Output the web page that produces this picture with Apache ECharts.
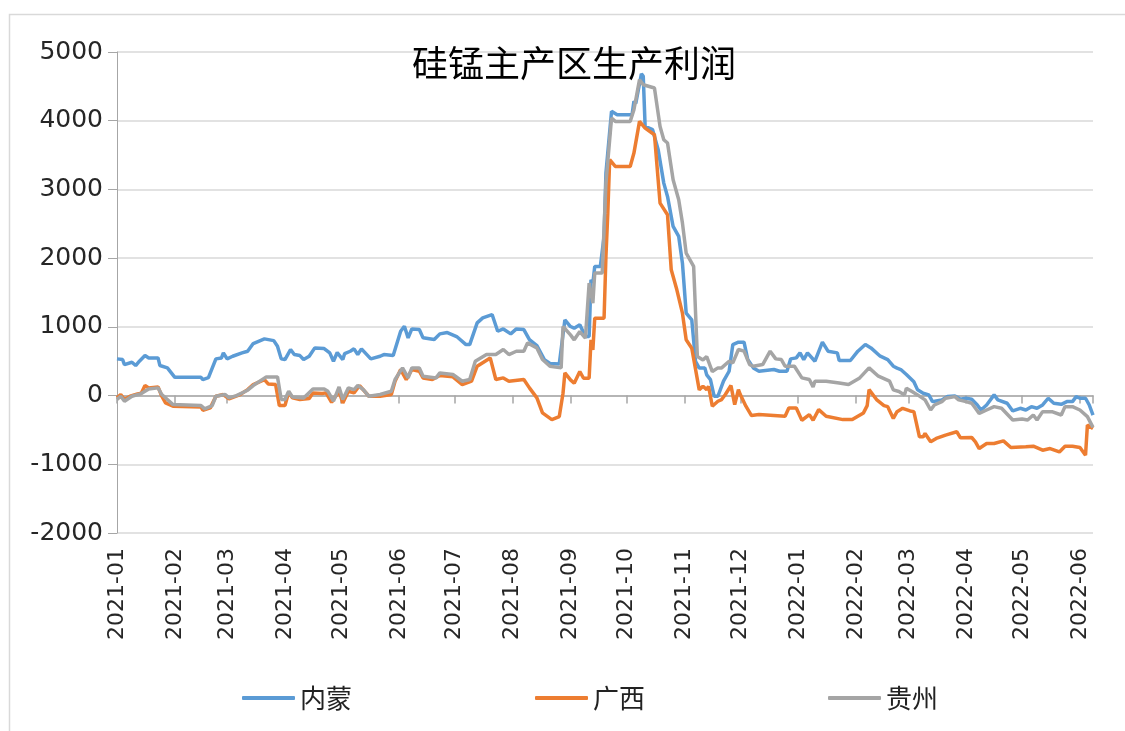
<!DOCTYPE html>
<html>
<head>
<meta charset="utf-8">
<title>硅锰主产区生产利润</title>
<script src="https://cdn.jsdelivr.net/npm/echarts@6/dist/echarts.min.js"></script>
<style>
  html, body { margin: 0; padding: 0; background: #fff; }
  #chart { width: 1125px; height: 731px; }
</style>
</head>
<body>
<div id="chart"></div>
<script>
// 内蒙
const nmDates = ['2021-01-01','2021-01-04','2021-01-05','2021-01-09','2021-01-11','2021-01-13','2021-01-16','2021-01-18','2021-01-23','2021-01-24','2021-01-28','2021-02-01','2021-02-15','2021-02-16','2021-02-19','2021-02-23','2021-02-26','2021-02-27','2021-03-01','2021-03-04','2021-03-09','2021-03-12','2021-03-15','2021-03-21','2021-03-26','2021-03-28','2021-03-30','2021-04-01','2021-04-04','2021-04-06','2021-04-09','2021-04-11','2021-04-14','2021-04-17','2021-04-22','2021-04-25','2021-04-27','2021-04-29','2021-05-02','2021-05-03','2021-05-06','2021-05-08','2021-05-10','2021-05-12','2021-05-17','2021-05-22','2021-05-24','2021-05-29','2021-06-02','2021-06-04','2021-06-06','2021-06-08','2021-06-12','2021-06-14','2021-06-20','2021-06-23','2021-06-27','2021-07-02','2021-07-07','2021-07-09','2021-07-13','2021-07-16','2021-07-21','2021-07-24','2021-07-27','2021-07-31','2021-08-03','2021-08-07','2021-08-10','2021-08-14','2021-08-18','2021-08-21','2021-08-26','2021-08-29','2021-09-01','2021-09-03','2021-09-06','2021-09-09','2021-09-11','2021-09-12','2021-09-13','2021-09-14','2021-09-17','2021-09-19','2021-09-20','2021-09-23','2021-09-26','2021-10-04','2021-10-05','2021-10-06','2021-10-09','2021-10-10','2021-10-11','2021-10-15','2021-10-18','2021-10-21','2021-10-23','2021-10-26','2021-10-29','2021-10-31','2021-11-02','2021-11-05','2021-11-07','2021-11-09','2021-11-12','2021-11-13','2021-11-15','2021-11-17','2021-11-19','2021-11-22','2021-11-25','2021-11-27','2021-11-30','2021-12-03','2021-12-05','2021-12-08','2021-12-11','2021-12-19','2021-12-22','2021-12-26','2021-12-28','2021-12-31','2022-01-02','2022-01-04','2022-01-06','2022-01-10','2022-01-14','2022-01-17','2022-01-22','2022-01-23','2022-01-29','2022-02-02','2022-02-06','2022-02-09','2022-02-14','2022-02-18','2022-02-21','2022-02-23','2022-02-25','2022-02-28','2022-03-04','2022-03-06','2022-03-09','2022-03-12','2022-03-14','2022-03-16','2022-03-19','2022-03-22','2022-03-26','2022-03-29','2022-04-01','2022-04-04','2022-04-07','2022-04-09','2022-04-12','2022-04-16','2022-04-18','2022-04-23','2022-04-26','2022-04-30','2022-05-03','2022-05-06','2022-05-09','2022-05-12','2022-05-15','2022-05-18','2022-05-22','2022-05-25','2022-05-28','2022-05-30','2022-06-01','2022-06-04','2022-06-06','2022-06-08'];
const nmValues = [534,524,451,485,437,500,582,548,548,437,403,266,266,233,260,534,548,621,534,572,621,645,757,825,800,718,534,524,670,597,582,524,572,694,685,621,500,626,524,611,645,680,597,680,534,572,597,582,936,1009,840,970,961,840,815,898,917,859,742,742,1058,1131,1179,936,970,898,970,961,815,728,524,466,461,1102,1005,981,1029,859,859,1684,1636,1879,1879,2316,3238,4136,4087,4087,4282,4250,4684,4646,3917,3869,3578,3092,2898,2461,2316,1927,1199,1102,500,400,403,301,233,-10,-10,209,354,743,777,777,524,403,354,379,354,354,534,549,621,524,621,500,777,646,621,510,510,646,743,694,573,524,427,400,379,306,200,83,34,10,-88,-78,-63,-15,-5,-54,-39,-54,-137,-210,-137,10,-63,-112,-224,-185,-210,-161,-185,-137,-39,-112,-127,-88,-88,-15,-39,-39,-137,-283];

// 广西
const gxDates = ['2021-01-01','2021-01-03','2021-01-05','2021-01-08','2021-01-12','2021-01-14','2021-01-16','2021-01-18','2021-01-23','2021-01-25','2021-01-27','2021-01-31','2021-02-15','2021-02-16','2021-02-20','2021-02-23','2021-02-27','2021-03-02','2021-03-08','2021-03-12','2021-03-15','2021-03-21','2021-03-23','2021-03-27','2021-03-29','2021-04-01','2021-04-03','2021-04-05','2021-04-09','2021-04-14','2021-04-16','2021-04-21','2021-04-23','2021-04-26','2021-04-30','2021-05-02','2021-05-05','2021-05-08','2021-05-11','2021-05-16','2021-05-22','2021-05-28','2021-05-30','2021-06-02','2021-06-05','2021-06-08','2021-06-12','2021-06-14','2021-06-19','2021-06-23','2021-06-30','2021-07-05','2021-07-10','2021-07-13','2021-07-20','2021-07-23','2021-07-27','2021-07-30','2021-08-07','2021-08-10','2021-08-14','2021-08-17','2021-08-22','2021-08-26','2021-08-28','2021-08-29','2021-09-01','2021-09-03','2021-09-06','2021-09-08','2021-09-11','2021-09-12','2021-09-13','2021-09-14','2021-09-19','2021-09-20','2021-09-21','2021-09-22','2021-09-25','2021-10-03','2021-10-05','2021-10-08','2021-10-11','2021-10-16','2021-10-19','2021-10-23','2021-10-25','2021-10-28','2021-10-31','2021-11-02','2021-11-05','2021-11-09','2021-11-11','2021-11-13','2021-11-14','2021-11-16','2021-11-19','2021-11-21','2021-11-23','2021-11-26','2021-11-28','2021-11-30','2021-12-01','2021-12-04','2021-12-07','2021-12-11','2021-12-25','2021-12-27','2021-12-31','2022-01-03','2022-01-07','2022-01-09','2022-01-12','2022-01-16','2022-01-25','2022-01-30','2022-02-05','2022-02-07','2022-02-08','2022-02-12','2022-02-16','2022-02-18','2022-02-21','2022-02-23','2022-02-26','2022-03-02','2022-03-04','2022-03-07','2022-03-09','2022-03-10','2022-03-13','2022-03-16','2022-03-21','2022-03-27','2022-03-29','2022-04-04','2022-04-06','2022-04-08','2022-04-12','2022-04-16','2022-04-21','2022-04-25','2022-05-03','2022-05-07','2022-05-12','2022-05-16','2022-05-21','2022-05-24','2022-05-28','2022-06-01','2022-06-04','2022-06-05','2022-06-08'];
const gxValues = [-34,15,-58,-10,24,35,146,112,126,-10,-107,-155,-165,-213,-179,-10,15,-48,15,87,160,233,170,160,-146,-146,48,-34,-58,-44,39,29,39,-97,63,-107,63,39,146,-10,-10,15,209,379,233,379,354,257,233,291,272,160,209,427,548,233,257,209,233,112,-34,-252,-349,-306,34,330,228,180,350,252,252,811,665,1126,1126,2024,2655,3432,3335,3335,3529,3990,3893,3796,2801,2631,1830,1539,1199,811,689,83,136,87,136,-155,-83,-58,15,146,-131,87,15,-155,-291,-277,-301,-180,-180,-359,-277,-359,-204,-301,-350,-350,-252,-146,87,-58,-146,-161,-332,-234,-185,-224,-234,-600,-600,-551,-673,-624,-576,-527,-615,-610,-673,-771,-698,-698,-659,-756,-746,-737,-795,-771,-820,-737,-737,-756,-868,-429,-478];

// 贵州
const gzDates = ['2021-01-01','2021-01-03','2021-01-05','2021-01-09','2021-01-14','2021-01-18','2021-01-23','2021-01-25','2021-01-28','2021-01-31','2021-02-15','2021-02-17','2021-02-21','2021-02-23','2021-02-28','2021-03-02','2021-03-06','2021-03-12','2021-03-15','2021-03-22','2021-03-28','2021-03-30','2021-04-01','2021-04-03','2021-04-05','2021-04-11','2021-04-16','2021-04-22','2021-04-24','2021-04-27','2021-04-30','2021-05-02','2021-05-05','2021-05-08','2021-05-10','2021-05-13','2021-05-16','2021-05-22','2021-05-28','2021-05-30','2021-06-03','2021-06-06','2021-06-08','2021-06-12','2021-06-14','2021-06-21','2021-06-23','2021-06-30','2021-07-05','2021-07-09','2021-07-12','2021-07-18','2021-07-23','2021-07-27','2021-07-30','2021-08-03','2021-08-07','2021-08-09','2021-08-14','2021-08-17','2021-08-21','2021-08-27','2021-08-28','2021-09-01','2021-09-03','2021-09-06','2021-09-09','2021-09-11','2021-09-13','2021-09-14','2021-09-18','2021-09-20','2021-09-23','2021-09-25','2021-10-03','2021-10-05','2021-10-08','2021-10-10','2021-10-16','2021-10-19','2021-10-21','2021-10-23','2021-10-26','2021-10-29','2021-10-31','2021-11-02','2021-11-06','2021-11-08','2021-11-11','2021-11-13','2021-11-16','2021-11-19','2021-11-21','2021-11-25','2021-11-27','2021-11-30','2021-12-03','2021-12-06','2021-12-08','2021-12-13','2021-12-17','2021-12-20','2021-12-23','2021-12-25','2021-12-30','2022-01-03','2022-01-07','2022-01-09','2022-01-10','2022-01-16','2022-01-23','2022-01-28','2022-02-03','2022-02-08','2022-02-13','2022-02-19','2022-02-21','2022-02-24','2022-02-27','2022-02-28','2022-03-03','2022-03-06','2022-03-10','2022-03-13','2022-03-15','2022-03-19','2022-03-21','2022-03-26','2022-03-28','2022-04-01','2022-04-04','2022-04-06','2022-04-08','2022-04-12','2022-04-16','2022-04-20','2022-04-26','2022-05-01','2022-05-04','2022-05-07','2022-05-09','2022-05-12','2022-05-17','2022-05-22','2022-05-24','2022-05-28','2022-06-01','2022-06-05','2022-06-08'];
const gzValues = [-58,-10,-82,-10,29,97,112,15,-58,-131,-146,-194,-146,-10,15,-34,0,78,146,272,272,-58,-58,63,-20,-34,97,97,63,-82,126,-58,112,87,146,87,-10,15,63,233,403,257,403,403,282,257,330,306,209,233,500,597,597,670,597,645,645,767,694,524,427,403,1005,883,811,932,835,1636,1345,1782,1782,3092,4039,3990,3990,4160,4597,4524,4476,3917,3723,3675,3141,2850,2510,2073,1879,568,519,568,350,403,403,500,476,670,646,451,427,451,646,534,524,427,427,257,233,126,209,209,184,160,257,403,282,209,83,59,10,107,59,10,-63,-210,-137,-88,-39,-15,-63,-88,-112,-185,-259,-210,-161,-185,-356,-341,-356,-283,-356,-234,-234,-283,-161,-161,-210,-307,-463];

const seriesNames = ['内蒙', '广西', '贵州'];
const seriesColors = ['#5B9BD5', '#ED7D31', '#A5A5A5'];
const yTicks = { min: -2000, max: 5000, interval: 1000 };
const xRange = { min: '2021-01-01', max: '2022-06-08' };

const allDates = [nmDates, gxDates, gzDates];
const allValues = [nmValues, gxValues, gzValues];

const chart = echarts.init(document.getElementById('chart'));

const DAY = 24 * 3600 * 1000;

// 两条x轴共用的时间轴设置
const timeAxisBase = {
  type: 'time',
  min: xRange.min,
  max: xRange.max,
  minInterval: 28 * DAY,
  maxInterval: 31 * DAY,
  splitLine: { show: false },
};

const option = {
  backgroundColor: '#fff',
  animation: false,
  title: {
    text: '硅锰主产区生产利润',
    left: 407,
    top: 40,
    textStyle: {
      fontFamily: 'Noto Sans CJK SC',
      fontSize: 36,
      fontWeight: 'normal',
      color: '#000',
    },
  },
  legend: {
    data: seriesNames,
    left: 237,
    top: 680,
    itemWidth: 53,
    itemHeight: 4,
    itemGap: 183,
    icon: 'roundRect',
    textStyle: {
      fontFamily: 'Noto Sans CJK SC',
      fontSize: 26,
      color: '#222',
    },
  },
  graphic: [
    {
      type: 'rect',
      shape: { x: 9.5, y: 14.5, width: 1200, height: 800 },
      style: { fill: 'none', stroke: '#d9d9d9', lineWidth: 1.5 },
      silent: true,
    },
  ],
  grid: {
    left: 117,
    right: 32,
    top: 52,
    bottom: 198,
  },
  xAxis: [
    // 0 轴上的轴线和刻度
    Object.assign({}, timeAxisBase, {
      axisLine: { onZero: true, lineStyle: { color: '#a6a6a6', width: 1.5 } },
      axisTick: { show: true, length: 8, lineStyle: { color: '#a6a6a6', width: 1.5 } },
      axisLabel: { show: false },
    }),
    // 底部的日期标签
    Object.assign({}, timeAxisBase, {
      position: 'bottom',
      axisLine: { show: false, onZero: false },
      axisTick: { show: false },
      axisLabel: {
        show: true,
        rotate: 90,
        margin: 15,
        formatter: '{yyyy}-{MM}',
        fontFamily: 'DejaVu Sans',
        fontSize: 22,
        color: '#262626',
        fontWeight: 'normal',
        showMinLabel: true,
        showMaxLabel: false,
      },
    }),
  ],
  yAxis: {
    type: 'value',
    min: yTicks.min,
    max: yTicks.max,
    interval: yTicks.interval,
    axisLine: { show: true, lineStyle: { color: '#a6a6a6', width: 1 } },
    axisTick: { show: true, length: 9, lineStyle: { color: '#a6a6a6' } },
    axisLabel: {
      margin: 14,
      fontFamily: 'DejaVu Sans',
      fontSize: 25,
      color: '#262626',
      formatter: (v) => String(v),
    },
    splitLine: { show: true, lineStyle: { color: '#d9d9d9', width: 1.5 } },
  },
  series: seriesNames.map((name, i) => ({
    name: name,
    type: 'line',
    xAxisIndex: 0,
    showSymbol: false,
    symbol: 'none',
    smooth: false,
    lineStyle: { color: seriesColors[i], width: 3.5 },
    itemStyle: { color: seriesColors[i] },
    data: allDates[i].map((d, j) => [d, allValues[i][j]]),
  })),
};

chart.setOption(option);
</script>
</body>
</html>
